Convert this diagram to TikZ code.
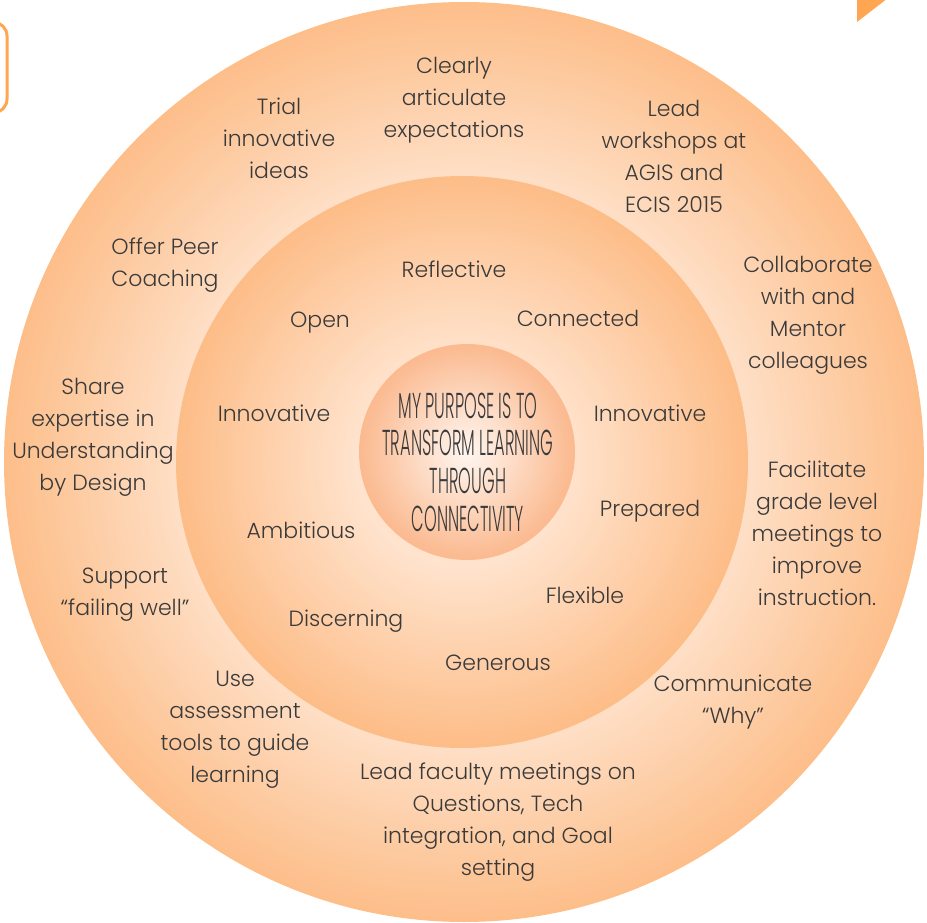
\documentclass[tikz,border=0pt]{standalone}
\usepackage{fontspec}
\setmainfont{Poppins}[UprightFont={* Light}]
\newfontfamily\capsfont{Poppins}[UprightFont={* Light},FakeStretch=0.45]
\definecolor{txt}{HTML}{3A3A3A}
\definecolor{accent}{HTML}{FFA653}
\definecolor{outerdark}{HTML}{FDBE8A}
\definecolor{outerlight}{HTML}{FEDFC6}
\definecolor{innerdark}{HTML}{FDBD88}
\definecolor{innerlight}{HTML}{FFE3CD}
\definecolor{coredark}{HTML}{FBBA90}
\definecolor{corelight}{HTML}{FFF6F0}
\tikzset{
  lbl/.style={align=center, text=txt, inner sep=0pt, font=\fontsize{22}{32}\selectfont},
  core/.style={align=center, text=txt, inner sep=0pt, font=\capsfont\fontsize{36}{37.7}\selectfont}
}
\begin{document}
\begin{tikzpicture}[x=1pt,y=-1pt]
\useasboundingbox (0,0) rectangle (927,923);
% decorative corner shapes
\draw[accent, line width=3pt, rounded corners=14pt] (-40,22) rectangle (7,113);
\fill[accent] (857,-2) -- (857,22) -- (888,-2) -- cycle;
% outer ring
\foreach \i in {0,...,48}{
  \pgfmathsetmacro\rr{460-\i*(460-286)/48}
  \pgfmathsetmacro\pp{100-\i*100/48}
  \fill[outerdark!\pp!outerlight] (464,462) circle (\rr pt);
}
% inner ring
\foreach \i in {0,...,48}{
  \pgfmathsetmacro\rr{286-\i*(286-108)/48}
  \pgfmathsetmacro\pp{100-\i*100/48}
  \fill[innerdark!\pp!innerlight] (462,462) circle (\rr pt);
}
% core
\foreach \i in {0,...,36}{
  \pgfmathsetmacro\rr{108-\i*106/36}
  \pgfmathsetmacro\pp{100-\i*100/36}
  \fill[coredark!\pp!corelight] (467,452) circle (\rr pt);
}
% core text
\node[core] (purpose) at (468,462) {MY PURPOSE IS TO\\TRANSFORM LEARNING\\THROUGH\\CONNECTIVITY};
% inner ring texts
\node[lbl] (reflective) at (454,269) {Reflective};
\node[lbl] (open) at (320,323) {Open};
\node[lbl] (connected) at (578,318) {Connected};
\node[lbl] (innovL) at (274,413) {Innovative};
\node[lbl] (innovR) at (650,413) {Innovative};
\node[lbl] (ambitious) at (301,530) {Ambitious};
\node[lbl] (prepared) at (650,511) {Prepared};
\node[lbl] (flexible) at (585,595) {Flexible};
\node[lbl] (discerning) at (346,621) {Discerning};
\node[lbl] (generous) at (498,663) {Generous};
% outer ring texts
\node[lbl] (clearly) at (454,100) {Clearly\\articulate\\expectations};
\node[lbl] (trial) at (279,138) {Trial\\innovative\\ideas};
\node[lbl] (workshops) at (674,156) {Lead\\workshops at\\AGIS and\\ECIS 2015};
\node[lbl] (coaching) at (165,265) {Offer Peer\\Coaching};
\node[lbl] (collab) at (808,315) {Collaborate\\with and\\Mentor\\colleagues};
\node[lbl] (share) at (93,437) {Share\\expertise in\\Understanding\\by Design};
\node[lbl] (facilitate) at (817,533) {Facilitate\\grade level\\meetings to\\improve\\instruction.};
\node[lbl] (support) at (125,595) {Support\\“failing well”};
\node[lbl] (assess) at (235,730) {Use\\assessment\\tools to guide\\learning};
\node[lbl] (why) at (733,702) {Communicate\\“Why”};
\node[lbl] (faculty) at (498,822) {Lead faculty meetings on\\Questions, Tech\\integration, and Goal\\setting};
\end{tikzpicture}
\end{document}
